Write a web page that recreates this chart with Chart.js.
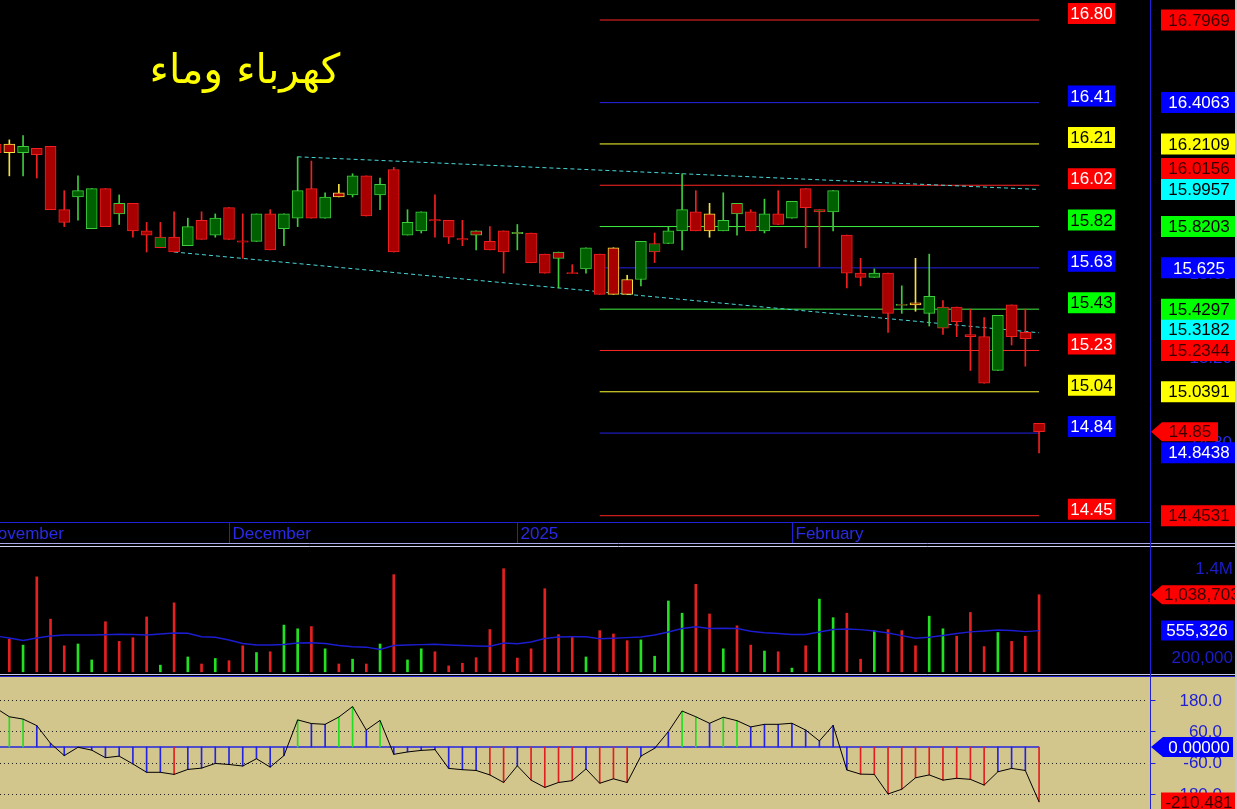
<!DOCTYPE html>
<html><head><meta charset="utf-8">
<script src="https://cdn.jsdelivr.net/npm/chart.js@4.4.1/dist/chart.umd.min.js"></script>
<style>html,body{margin:0;padding:0;background:#000;overflow:hidden}canvas{display:block}</style>
</head><body>
<canvas id="c" width="1237" height="809"></canvas>
<script>
// ---------------- DATA ----------------
const TITLE = 'كهرباء وماء';
const OPEN  = [16.21,16.21,16.17,16.19,16.20,15.90,15.96,15.81,16.00,15.93,15.93,15.80,15.72,15.77,15.73,15.85,15.78,15.91,15.75,15.75,15.88,15.81,15.86,16.00,15.86,15.98,15.97,16.06,15.97,16.09,15.78,15.80,15.85,15.85,15.76,15.80,15.75,15.80,15.79,15.79,15.69,15.70,15.60,15.62,15.69,15.72,15.57,15.57,15.70,15.74,15.80,15.89,15.88,15.80,15.93,15.89,15.80,15.88,15.86,16.00,15.89,15.89,15.78,15.60,15.58,15.60,15.45,15.46,15.41,15.34,15.44,15.31,15.30,15.14,15.45,15.32,14.89];
const HIGH  = [16.22,16.23,16.25,16.19,16.20,15.99,16.06,16.00,16.00,15.97,15.93,15.84,15.84,15.89,15.86,15.89,15.88,15.91,15.88,15.88,15.90,15.88,16.15,16.13,15.98,16.02,16.07,16.06,16.05,16.10,15.90,15.89,15.97,15.85,15.85,15.80,15.82,15.80,15.83,15.79,15.69,15.70,15.64,15.72,15.69,15.72,15.59,15.75,15.79,15.82,16.07,15.99,15.93,15.98,15.93,15.90,15.95,15.99,15.94,16.00,15.90,15.99,15.78,15.67,15.62,15.60,15.54,15.67,15.69,15.47,15.44,15.43,15.39,15.40,15.45,15.43,14.89];
const LOW   = [16.16,16.06,16.06,16.05,15.90,15.82,15.85,15.81,15.82,15.83,15.77,15.70,15.72,15.70,15.73,15.76,15.77,15.76,15.67,15.75,15.71,15.73,15.82,15.86,15.86,15.96,15.96,15.87,15.90,15.70,15.78,15.79,15.77,15.74,15.73,15.71,15.71,15.60,15.71,15.65,15.60,15.53,15.60,15.60,15.50,15.50,15.50,15.54,15.65,15.74,15.71,15.80,15.77,15.80,15.78,15.80,15.79,15.83,15.86,15.72,15.63,15.80,15.53,15.54,15.58,15.32,15.41,15.42,15.35,15.31,15.30,15.14,15.08,15.14,15.26,15.16,14.75];
const CLOSE = [16.17,16.17,16.20,16.16,15.90,15.84,15.99,16.00,15.82,15.88,15.80,15.78,15.77,15.70,15.82,15.76,15.86,15.76,15.75,15.88,15.71,15.88,15.99,15.86,15.96,15.96,16.06,15.87,16.02,15.70,15.84,15.89,15.85,15.77,15.76,15.78,15.71,15.70,15.79,15.65,15.60,15.67,15.60,15.72,15.50,15.50,15.50,15.75,15.74,15.80,15.90,15.80,15.80,15.85,15.88,15.80,15.88,15.83,15.94,15.91,15.90,15.99,15.60,15.58,15.60,15.41,15.45,15.45,15.49,15.44,15.37,15.30,15.08,15.40,15.30,15.29,14.85];
const VOLUME = [400000,440000,360000,1280000,710000,350000,375000,160000,675000,410000,460000,740000,90000,930000,200000,105000,180000,150000,350000,260000,270000,630000,580000,610000,310000,105000,170000,105000,375000,1310000,160000,310000,270000,80000,115000,190000,570000,1390000,185000,310000,1120000,500000,465000,200000,555000,510000,420000,430000,210000,955000,790000,1180000,780000,310000,620000,360000,280000,270000,50000,350000,980000,730000,790000,170000,555000,570000,555000,350000,750000,580000,480000,800000,340000,530000,410000,480000,1038703];
const VOLUME_MA = [483000,456000,422000,456000,483000,496000,496000,496000,499000,506000,502000,496000,510000,523000,520000,473000,466000,429000,382000,361000,361000,368000,388000,392000,382000,355000,337000,332000,301000,355000,361000,367000,371000,361000,355000,348000,344000,388000,379000,402000,449000,469000,473000,473000,446000,452000,461000,469000,496000,537000,584000,608000,584000,588000,584000,546000,527000,516000,503000,503000,537000,570000,577000,568000,550000,523000,488000,453000,466000,489000,516000,539000,550000,564000,557000,542000,555326];
const OSC = [150,116,107,82,14,-33,-1,-12,-41,-35,-65,-97,-97,-105,-86,-81,-63,-67,-73,-45,-77,-33,104,90,87,115,155,65,102,-28,-19,-13,-10,-82,-87,-90,-107,-136,-72,-127,-155,-136,-129,-84,-139,-122,-136,-35,-5,59,138,116,91,114,101,77,87,87,91,65,23,83,-88,-104,-105,-180,-162,-118,-107,-127,-120,-124,-146,-95,-82,-90,-210.481];
const LEVELS = [16.7969,16.4063,16.2109,16.0156,15.8203,15.625,15.4297,15.2344,15.0391,14.8438,14.4531];
const LEVEL_RANGE = [44, 76];
const TREND_UP_X = [22, 76], TREND_UP_Y = [16.15, 15.9957];
const TREND_LO_X = [13, 76], TREND_LO_Y = [15.70, 15.3182];
const MONTH_LABELS = ['November','December','2025','February'];
const MONTH_INDEX = [-1, 17, 38, 58];
const PRICE_TICKS = [14.80,15.20,15.60,16.00,16.40,16.80];
const VOL_TICKS = [1400000, 200000];
const VOL_TICK_LABELS = ['1.4M','200,000'];
const OSC_TICKS = [180, 60, -60, -180];
const OSC_TICK_LABELS = ['180.0','60.0','-60.0','-180.0'];
const OSC_BAND = 100;

// ---------------- STYLE ----------------
const LEVEL_COLORS = ['red','blue','yellow','red','green','blue','green','red','yellow','blue','red'];
const LINE_COL = {red:'#ff2424', blue:'#2424e8', yellow:'#ffff30', green:'#40f040'};
const BOX_COL  = {red:'#ff0000', blue:'#0000ff', yellow:'#ffff00', green:'#00ff00', cyan:'#00ffff'};
const BOX_TXT_MAIN  = {red:'#ffffff', blue:'#ffffff', yellow:'#000000', green:'#000000', cyan:'#000000'};
const BOX_TXT_RIGHT = {red:'#3a0000', blue:'#ffffff', yellow:'#000000', green:'#000000', cyan:'#000000'};
const KHAKI = '#d3c68d';
const AXIS_BLUE = '#2020d8';
const FONT = "17px 'Liberation Sans', Arial, sans-serif";

const N = CLOSE.length;
const IDX = CLOSE.map((_, i) => i);
const borderCol = IDX.map(i => {
  const prev = i > 0 ? CLOSE[i-1] : OPEN[i];
  if (i > 0 && Math.abs(CLOSE[i] - prev) < 1e-9) return '#f4e040';
  const up = i > 0 ? CLOSE[i] > prev : CLOSE[i] > OPEN[i];
  return up ? '#3ccc3c' : '#f02020';
});
const fillCol = IDX.map(i => CLOSE[i] > OPEN[i] ? '#006000' : '#a80000');
const volCol = IDX.map(i => CLOSE[i] > OPEN[i] ? '#22e022' : '#e42020');
const oscCol = OSC.map(v => v > OSC_BAND ? '#22dd22' : (v < -OSC_BAND ? '#e02020' : '#2424e0'));

const datasets = [];
LEVELS.forEach((lv, k) => datasets.push({
  type:'line', yAxisID:'y', order:20,
  data: LEVEL_RANGE.map(x => ({x, y: lv})),
  borderColor: LINE_COL[LEVEL_COLORS[k]], borderWidth:1, pointRadius:0
}));
datasets.push({type:'line', yAxisID:'y', order:19, data: TREND_UP_X.map((x,k)=>({x, y:TREND_UP_Y[k]})),
  borderColor:'#48d8d8', borderWidth:1, borderDash:[4,3], pointRadius:0});
datasets.push({type:'line', yAxisID:'y', order:19, data: TREND_LO_X.map((x,k)=>({x, y:TREND_LO_Y[k]})),
  borderColor:'#48d8d8', borderWidth:1, borderDash:[4,3], pointRadius:0});
// wicks
datasets.push({type:'bar', yAxisID:'y', order:12, grouped:false, barThickness:1,
  data: IDX.map(i => ({x:i, y:[LOW[i], HIGH[i]]})), backgroundColor: borderCol, borderWidth:0});
// bodies
datasets.push({type:'bar', yAxisID:'y', order:11, grouped:false, barThickness:11, borderSkipped:false,
  data: IDX.map(i => {
    let a = Math.min(OPEN[i], CLOSE[i]), b = Math.max(OPEN[i], CLOSE[i]);
    if (b - a < 0.006) { a -= 0.003; b += 0.003; }
    return {x:i, y:[a, b]};
  }),
  backgroundColor: fillCol, borderColor: borderCol, borderWidth:1});
// volume
datasets.push({type:'bar', yAxisID:'yv', order:10, grouped:false, barThickness:2,
  data: IDX.map(i => ({x:i, y:VOLUME[i]})), backgroundColor: volCol, borderWidth:0});
datasets.push({type:'line', yAxisID:'yv', order:9, data: IDX.map(i => ({x:i, y:VOLUME_MA[i]})),
  borderColor:'#1c1cd0', borderWidth:1.4, pointRadius:0, tension:0});
// oscillator
datasets.push({type:'line', yAxisID:'yo', order:8, data:[{x:0,y:0},{x:N-1,y:0}],
  borderColor:'#2424e0', borderWidth:1.5, pointRadius:0});
datasets.push({type:'bar', yAxisID:'yo', order:7, grouped:false, barThickness:1,
  data: IDX.map(i => ({x:i, y:[0, OSC[i]]})), backgroundColor: oscCol, borderWidth:0});
datasets.push({type:'line', yAxisID:'yo', order:6, data: IDX.map(i => ({x:i, y:OSC[i]})),
  borderColor:'#000000', borderWidth:1, pointRadius:0, tension:0});

function hline(ctx, x1, x2, y, col, w) {
  ctx.strokeStyle = col; ctx.lineWidth = w || 1;
  ctx.beginPath(); ctx.moveTo(x1, y); ctx.lineTo(x2, y); ctx.stroke();
}
function vline(ctx, x, y1, y2, col, w) {
  ctx.strokeStyle = col; ctx.lineWidth = w || 1;
  ctx.beginPath(); ctx.moveTo(x, y1); ctx.lineTo(x, y2); ctx.stroke();
}
function box(ctx, x1, x2, yc, h, bg, fg, text, tx, align, tip) {
  ctx.fillStyle = bg; ctx.beginPath();
  if (tip !== undefined) {
    ctx.moveTo(tip, yc); ctx.lineTo(x1, yc - h/2); ctx.lineTo(x2, yc - h/2);
    ctx.lineTo(x2, yc + h/2); ctx.lineTo(x1, yc + h/2); ctx.closePath();
  } else ctx.rect(x1, yc - h/2, x2 - x1, h);
  ctx.fill();
  ctx.fillStyle = fg; ctx.textAlign = align; ctx.textBaseline = 'middle';
  ctx.fillText(text, tx, yc + 1);
}
function fmt4(v) { return String(Number(v.toFixed(4))); }

const AXIS_X = 1150.5, PRICE_BOTTOM = 522.5, OSC_TOP = 676;

const panels = {
  id:'panels',
  beforeDraw(chart) {
    const ctx = chart.ctx, W = chart.width, H = chart.height;
    ctx.save();
    ctx.fillStyle = '#000'; ctx.fillRect(0, 0, W, H);
    ctx.fillStyle = KHAKI; ctx.fillRect(0, OSC_TOP, W, H - OSC_TOP);
    const yo = chart.scales.yo;
    ctx.setLineDash([1, 3]);
    OSC_TICKS.forEach(v => hline(ctx, 0, AXIS_X - 4, Math.round(yo.getPixelForValue(v)) + 0.5, '#222', 1));
    ctx.setLineDash([]);
    ctx.restore();
  },
  afterDraw(chart) {
    const ctx = chart.ctx, W = chart.width, H = chart.height;
    const x = chart.scales.x, y = chart.scales.y, yv = chart.scales.yv, yo = chart.scales.yo;
    ctx.save();
    ctx.font = FONT;
    // separators
    hline(ctx, 0, AXIS_X, PRICE_BOTTOM, AXIS_BLUE, 1);
    hline(ctx, 0, W, 543.5, '#a8a8e8', 1);
    hline(ctx, 0, W, 546.5, '#d0d0f4', 1);
    hline(ctx, 0, W, 674.5, '#c8c8f0', 1);
    hline(ctx, 0, W, 676.5, '#2424d0', 1.2);
    vline(ctx, AXIS_X, 0, H, AXIS_BLUE, 1);
    // time axis
    MONTH_INDEX.forEach((mi, k) => {
      const px = Math.round(x.getPixelForValue(mi)) + 0.5;
      vline(ctx, px, PRICE_BOTTOM, 543, AXIS_BLUE, 1);
      ctx.fillStyle = '#2a2ae6'; ctx.textAlign = 'left'; ctx.textBaseline = 'middle';
      ctx.fillText(MONTH_LABELS[k], px + 3, 534);
    });
    // title
    ctx.font = "41px 'DejaVu Sans', sans-serif";
    ctx.fillStyle = '#ffff00'; ctx.textAlign = 'center'; ctx.textBaseline = 'middle';
    ctx.fillText(TITLE, 245, 72);
    ctx.font = FONT;
    // level labels in plot
    LEVELS.forEach((lv, k) => {
      const c = LEVEL_COLORS[k];
      const py = y.getPixelForValue(lv) - 6.5;
      box(ctx, 1068, 1115, py, 21, BOX_COL[c], BOX_TXT_MAIN[c], lv.toFixed(2), 1091.5, 'center');
    });
    // price axis ticks (mostly hidden)
    PRICE_TICKS.forEach(v => {
      ctx.fillStyle = '#2a2ae6'; ctx.textAlign = 'right'; ctx.textBaseline = 'middle';
      ctx.fillText(v.toFixed(2), 1232, y.getPixelForValue(v) + 1);
    });
    // right price labels with collision handling
    const last = CLOSE[N-1];
    const items = [];
    items.push({v:last, text:last.toFixed(2), c:'red', arrow:true});
    items.push({v:TREND_UP_Y[1], text:fmt4(TREND_UP_Y[1]), c:'cyan'});
    LEVELS.forEach((lv, k) => items.push({v:lv, text:fmt4(lv), c:LEVEL_COLORS[k]}));
    items.push({v:TREND_LO_Y[1], text:fmt4(TREND_LO_Y[1]), c:'cyan'});
    const placed = [];
    const HH = 21;
    items.forEach(it => {
      const want = y.getPixelForValue(it.v);
      let py = want, guard = 0, moved = true;
      while (moved && guard++ < 20) {
        moved = false;
        for (const p of placed) {
          if (Math.abs(py - p.py) < HH - 0.5) {
            py = want <= p.py ? p.py - HH : p.py + HH; moved = true;
          }
        }
      }
      it.py = py; placed.push(it);
    });
    placed.slice().reverse().forEach(it => {
      if (it.arrow) box(ctx, 1162, 1218, it.py, 19, BOX_COL[it.c], BOX_TXT_RIGHT[it.c], it.text, 1190, 'center', 1151);
      else box(ctx, 1161, 1236, it.py, HH, BOX_COL[it.c], BOX_TXT_RIGHT[it.c], it.text, 1199, 'center');
    });
    // volume axis
    VOL_TICKS.forEach((v, k) => {
      ctx.fillStyle = '#1c1cc8'; ctx.textAlign = 'right'; ctx.textBaseline = 'middle';
      ctx.fillText(VOL_TICK_LABELS[k], 1233, yv.getPixelForValue(v) + 1);
    });
    const lv = VOLUME[N-1], lma = VOLUME_MA[N-1];
    box(ctx, 1162, 1240, yv.getPixelForValue(lv), 19, '#ff0000', '#3a0000', lv.toLocaleString('en-US'), 1164, 'left', 1151);
    box(ctx, 1161, 1233, yv.getPixelForValue(lma), 20, '#0000ff', '#ffffff', lma.toLocaleString('en-US'), 1197, 'center');
    // osc axis
    OSC_TICKS.forEach((v, k) => {
      const py = yo.getPixelForValue(v);
      hline(ctx, AXIS_X, AXIS_X + 5, Math.round(py) + 0.5, AXIS_BLUE, 1);
      ctx.fillStyle = '#2020d0'; ctx.textAlign = 'right'; ctx.textBaseline = 'middle';
      ctx.fillText(OSC_TICK_LABELS[k], 1222, py + 1);
    });
    box(ctx, 1163, 1233, yo.getPixelForValue(0), 20, '#0000ff', '#ffffff', (0).toFixed(5), 1199, 'center', 1151);
    const lo = OSC[N-1];
    box(ctx, 1161, 1236, yo.getPixelForValue(lo) + 0.5, 20, '#ff0000', '#3a0000', lo.toFixed(3), 1199, 'center');
    // window edge
    vline(ctx, 1236, 0, H, '#c8c8c8', 2);
    ctx.restore();
  }
};

new Chart(document.getElementById('c'), {
  type:'bar',
  data:{datasets},
  options:{
    responsive:false, animation:false, events:[],
    layout:{padding:{left:0, right:87, top:0, bottom:0}},
    plugins:{legend:{display:false}, tooltip:{enabled:false}, title:{display:false}},
    scales:{
      x:{type:'linear', min:0.32, max:84.08, display:false, offset:false},
      y:{type:'linear', min:13.0664, max:16.8915, display:false},
      yv:{type:'linear', axis:'y', min:-1849800, max:9057600, display:false},
      yo:{type:'linear', axis:'y', min:-237.7, max:2864.3, display:false}
    }
  },
  plugins:[panels]
});
</script>
</body></html>
